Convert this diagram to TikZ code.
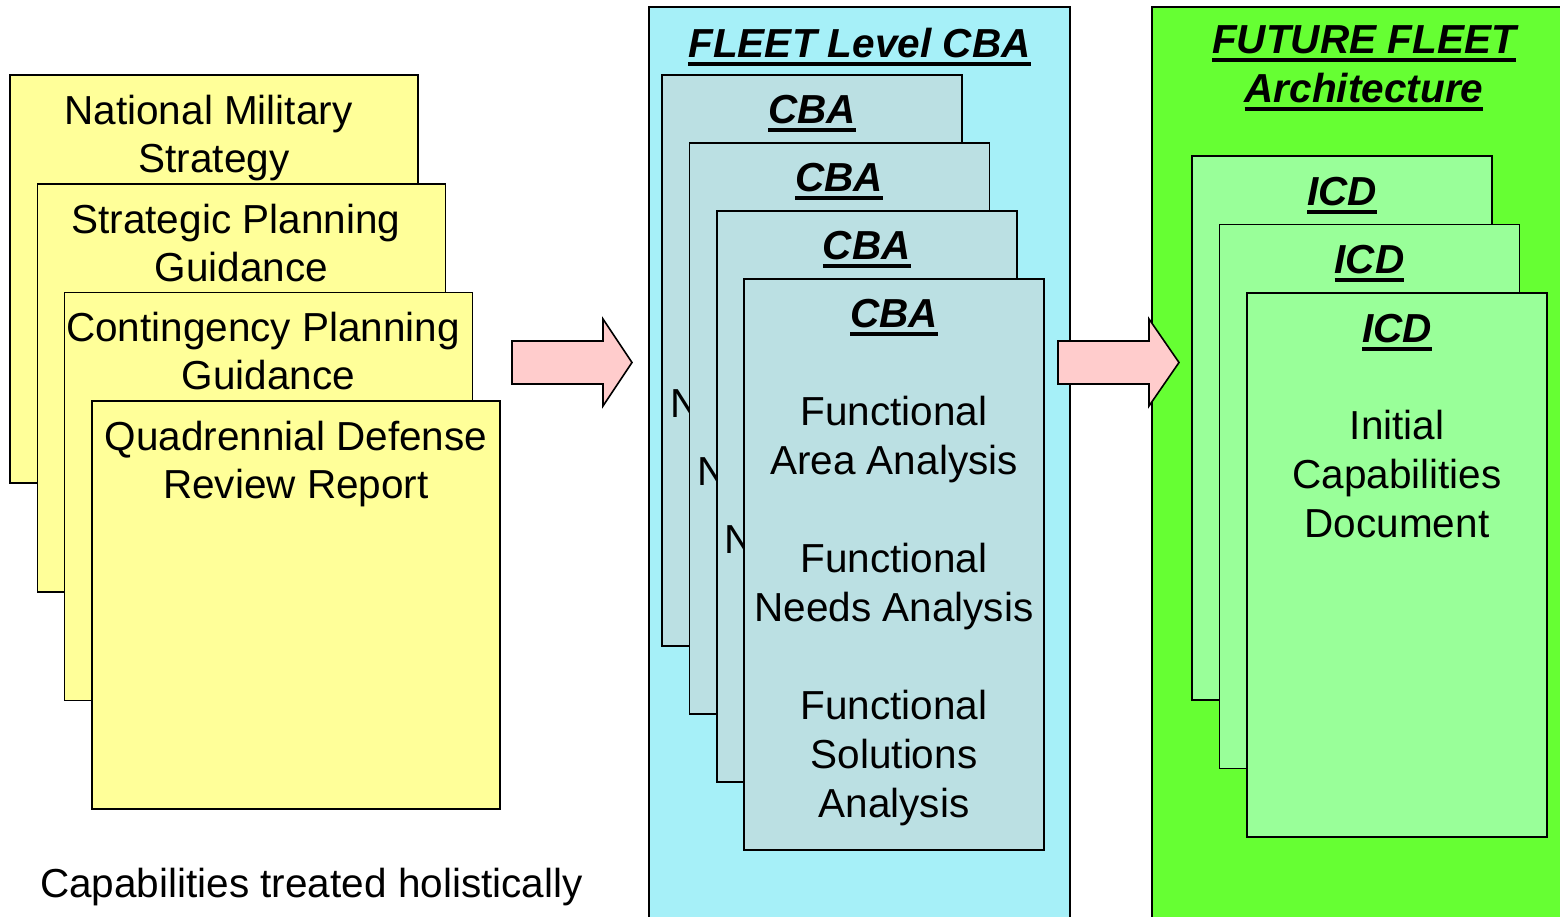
\documentclass[tikz,border=0pt]{standalone}
\usepackage{fontspec}
\setmainfont{Liberation Sans}
\definecolor{ypage}{HTML}{FFFF99}
\definecolor{cpanel}{HTML}{A6F0F8}
\definecolor{cbapage}{HTML}{BBE0E3}
\definecolor{gpanel}{HTML}{66FF33}
\definecolor{icdpage}{HTML}{99FF99}
\definecolor{arrowpink}{HTML}{FFCCCC}
\newsavebox{\myulbox}
\newcommand{\myul}[1]{\sbox{\myulbox}{#1}\rlap{\rule[-8.5pt]{\wd\myulbox}{4pt}}\usebox{\myulbox}}
\tikzset{
  page/.style={rectangle, draw=black, line width=1.6pt, inner sep=0pt, outer sep=0pt, anchor=north west},
  ybox/.style={page, fill=ypage, minimum width=408pt, minimum height=408pt},
  cbabox/.style={page, fill=cbapage, minimum width=300pt, minimum height=571pt},
  icdbox/.style={page, fill=icdpage, minimum width=300pt, minimum height=544pt},
  cpanelbox/.style={page, fill=cpanel, minimum width=421pt, minimum height=940pt},
  gpanelbox/.style={page, fill=gpanel, minimum width=430pt, minimum height=940pt},
  txt/.style={inner sep=0pt, outer sep=0pt, anchor=north, align=center,
    font=\fontsize{40.5pt}{48pt}\selectfont, execute at begin node={\rule{0pt}{30pt}}},
  btxt/.style={txt, font=\fontsize{40.5pt}{49pt}\selectfont},
  hdr/.style={txt, font=\fontsize{40.5pt}{49pt}\selectfont\bfseries\itshape},
  peek/.style={inner sep=0pt, outer sep=0pt, anchor=base west, font=\fontsize{40.5pt}{49pt}\selectfont},
  blockarrow/.style={draw=black, line width=1.6pt, fill=arrowpink, line join=miter},
}
\begin{document}
\begin{tikzpicture}[x=1pt, y=-1pt]
\useasboundingbox (0,0) rectangle (1560,916);
\fill[white] (0,0) rectangle (1560,916);
\clip (0,0) rectangle (1560,916);

% ---- yellow source documents ----
\node[ybox] (y1) at (10,75) {};
\node[txt] (y1t) at ([yshift=-20pt]y1.north) {National Military\hspace*{11pt}\\Strategy};
\node[ybox] (y2) at (37.3,183.7) {};
\node[txt] (y2t) at ([yshift=-20pt]y2.north) {Strategic Planning\hspace*{11pt}\\Guidance};
\node[ybox] (y3) at (64.6,292.4) {};
\node[txt] (y3t) at ([yshift=-20pt]y3.north) {Contingency Planning\hspace*{11pt}\\Guidance};
\node[ybox] (y4) at (91.9,401.1) {};
\node[txt] (y4t) at ([yshift=-20pt]y4.north) {Quadrennial Defense\\Review Report};

\node[inner sep=0pt, anchor=base west, font=\fontsize{40.5pt}{48pt}\selectfont] (note) at (40,897) {Capabilities treated holistically};

% ---- arrow 1 ----
\coordinate (ar1) at (512,362.5);
\draw[blockarrow] (ar1) ++(0,-21.5) -- ++(91,0) -- ++(0,-22) -- ++(29,43.5) -- ++(-29,43.5) -- ++(0,-22) -- ++(-91,0) -- cycle;

% ---- FLEET Level CBA panel ----
\node[cpanelbox] (cp) at (649,7) {};
\node[hdr] (cpt) at (859.5,27) {\myul{FLEET Level CBA}};

\foreach \i/\xx/\yy in {1/662/75, 2/689.3/143, 3/716.7/211}{
  \node[cbabox] (cba\i) at (\xx,\yy) {};
  \node[hdr] (cba\i h) at ([yshift=-18pt]cba\i.north) {\myul{CBA}};
  \node[peek] (cba\i n) at ([xshift=8pt,yshift=-342pt]cba\i.north west) {N};
}
\node[cbabox] (cba4) at (744,279) {};
\node[hdr] (cba4h) at ([yshift=-18pt]cba4.north) {\myul{CBA}};
\node[btxt] (cba4b) at ([yshift=-117pt]cba4.north) {Functional\\Area Analysis\\[49pt]Functional\\Needs Analysis\\[49pt]Functional\\Solutions\\Analysis};

% ---- FUTURE FLEET Architecture panel ----
\node[gpanelbox] (gp) at (1152,7) {};
\node[hdr] (gpt) at (1364,26) {\myul{FUTURE FLEET}\\\myul{Architecture}};

\node[icdbox] (icd1) at (1192,156) {};
\node[hdr] (icd1h) at ([yshift=-19pt]icd1.north) {\myul{ICD}};
\node[icdbox] (icd2) at (1219.5,224.5) {};
\node[hdr] (icd2h) at ([yshift=-19pt]icd2.north) {\myul{ICD}};
\node[icdbox] (icd3) at (1247,293) {};
\node[hdr] (icd3h) at ([yshift=-19pt]icd3.north) {\myul{ICD}};
\node[btxt] (icd3b) at ([yshift=-117pt]icd3.north) {Initial\\Capabilities\\Document};

% ---- arrow 2 ----
\coordinate (ar2) at (1058,362.5);
\draw[blockarrow] (ar2) ++(0,-21.5) -- ++(91,0) -- ++(0,-22) -- ++(30,43.5) -- ++(-30,43.5) -- ++(0,-22) -- ++(-91,0) -- cycle;
\end{tikzpicture}
\end{document}
